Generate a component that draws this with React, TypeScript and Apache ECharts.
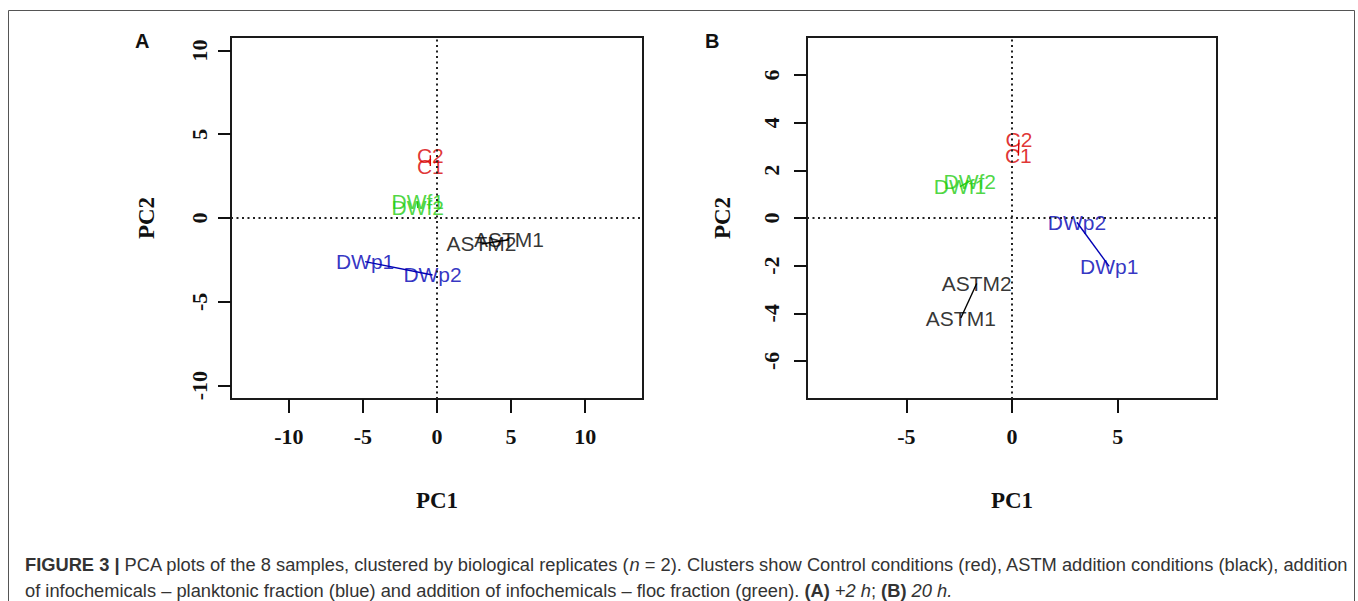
import React, { useEffect, useRef } from "react";
import * as echarts from "echarts";

// ---- Data ----
const samples = ["C1", "C2", "ASTM1", "ASTM2", "DWp1", "DWp2", "DWf1", "DWf2"];
const groupOf = ["ctrl", "ctrl", "astm", "astm", "dwp", "dwp", "dwf", "dwf"];
const groupColors: Record<string, string> = {
  ctrl: "#d80000",
  astm: "#000000",
  dwp: "#0000b4",
  dwf: "#22cc11",
};

// Panel A (+2 h)
const pc1A = [-0.45, -0.45, 4.85, 3.0, -4.85, -0.3, -1.3, -1.3];
const pc2A = [3.1, 3.75, -1.3, -1.55, -2.6, -3.4, 1.0, 0.6];
// Panel B (20 h)
const pc1B = [0.3, 0.33, -2.42, -1.67, 4.6, 3.07, -2.46, -2.0];
const pc2B = [2.62, 3.3, -4.2, -2.75, -2.03, -0.18, 1.32, 1.55];

const ticksAx = [-10, -5, 0, 5, 10];
const ticksAy = [-10, -5, 0, 5, 10];
const ticksBx = [-5, 0, 5];
const ticksBy = [-6, -4, -2, 0, 2, 4, 6];

const captionLine1 =
  "{b|FIGURE 3 |} PCA plots of the 8 samples, clustered by biological replicates ({i|n} = 2). Clusters show Control conditions (red), ASTM addition conditions (black), addition";
const captionLine2 =
  "of infochemicals – planktonic fraction (blue) and addition of infochemicals – floc fraction (green). {b|(A)} {i|+2 h}; {b|(B)} {i|20 h.}";

const serif = "'Liberation Serif', 'Times New Roman', serif";
const sans = "'Liberation Sans', Arial, sans-serif";
const capSize = 18.3;

function buildPanel(
  idx: number,
  pc1: number[],
  pc2: number[],
  xr: number,
  yr: number,
  xt: number[],
  yt: number[],
  yLabelMargin: number
) {
  const xAxis = {
    type: "value",
    gridIndex: idx,
    min: -xr,
    max: xr,
    axisLine: { show: false, onZero: false },
    splitLine: { show: false },
    axisTick: {
      show: true,
      customValues: xt,
      length: 14,
      lineStyle: { color: "#111", width: 2 },
    },
    axisLabel: {
      customValues: xt,
      margin: 26,
      fontFamily: serif,
      fontWeight: "bold",
      fontSize: 22,
      color: "#111",
      formatter: (v: number) => String(v),
    },
    name: "PC1",
    nameLocation: "middle",
    nameGap: 90,
    nameTextStyle: { fontFamily: serif, fontWeight: "bold", fontSize: 23, color: "#111" },
  };
  const yAxis = {
    type: "value",
    gridIndex: idx,
    min: -yr,
    max: yr,
    axisLine: { show: false, onZero: false },
    splitLine: { show: false },
    axisTick: {
      show: true,
      customValues: yt,
      length: 13,
      lineStyle: { color: "#111", width: 2 },
    },
    axisLabel: {
      customValues: yt,
      rotate: 90,
      margin: yLabelMargin,
      fontFamily: serif,
      fontWeight: "bold",
      fontSize: 22,
      color: "#111",
      formatter: (v: number) => String(v),
    },
    name: "PC2",
    nameLocation: "middle",
    nameRotate: 90,
    nameGap: 73,
    nameTextStyle: { fontFamily: serif, fontWeight: "bold", fontSize: 23, color: "#111" },
  };

  const series: any[] = [];
  // reference dotted lines at 0
  series.push({
    type: "line",
    xAxisIndex: idx,
    yAxisIndex: idx,
    data: [],
    silent: true,
    markLine: {
      silent: true,
      symbol: "none",
      label: { show: false },
      lineStyle: { color: "#222", width: 2, type: [2, 3.5] },
      data: [{ xAxis: 0 }, { yAxis: 0 }],
    },
  });
  const groups = Array.from(new Set(groupOf));
  groups.forEach((g) => {
    const ids = groupOf.map((gg, i) => (gg === g ? i : -1)).filter((i) => i >= 0);
    series.push({
      type: "line",
      xAxisIndex: idx,
      yAxisIndex: idx,
      showSymbol: false,
      symbol: "none",
      silent: true,
      lineStyle: { color: groupColors[g], width: 1.4 },
      data: ids.map((i) => [pc1[i], pc2[i]]),
    });
    series.push({
      type: "scatter",
      xAxisIndex: idx,
      yAxisIndex: idx,
      symbolSize: 0,
      silent: true,
      label: {
        show: true,
        position: "inside",
        formatter: (p: any) => p.name,
        fontFamily: sans,
        fontSize: 21,
        color: groupColors[g],
      },
      data: ids.map((i) => ({ name: samples[i], value: [pc1[i], pc2[i]] })),
    });
  });
  return { xAxis, yAxis, series };
}

export default function App() {
  const ref = useRef<HTMLDivElement>(null);
  useEffect(() => {
    if (!ref.current) return;
    const chart = echarts.init(ref.current, undefined, { renderer: "svg" });
    const a = buildPanel(0, pc1A, pc2A, 13.9, 10.8, ticksAx, ticksAy, 21);
    const b = buildPanel(1, pc1B, pc2B, 9.7, 7.6, ticksBx, ticksBy, 25);
    const richStyles = {
      b: { fontFamily: sans, fontSize: capSize, fontWeight: "bold", fill: "#333" },
      i: { fontFamily: sans, fontSize: capSize, fontStyle: "italic", fill: "#333" },
    };
    const option: any = {
      animation: false,
      backgroundColor: "#ffffff",
      grid: [
        { left: 231, top: 37, width: 412, height: 362, show: true, borderColor: "#1a1a1a", borderWidth: 2, backgroundColor: "transparent" },
        { left: 807, top: 37, width: 410, height: 362, show: true, borderColor: "#1a1a1a", borderWidth: 2, backgroundColor: "transparent" },
      ],
      xAxis: [a.xAxis, b.xAxis],
      yAxis: [a.yAxis, b.yAxis],
      series: [...a.series, ...b.series],
      graphic: [
        {
          type: "rect",
          silent: true,
          shape: { x: 8.5, y: 10.5, width: 1346, height: 620 },
          style: { fill: "none", stroke: "#555", lineWidth: 1 },
        },
        {
          type: "text",
          x: 135,
          y: 31,
          style: { text: "A", fontFamily: sans, fontWeight: "bold", fontSize: 20, fill: "#111" },
        },
        {
          type: "text",
          x: 705,
          y: 31,
          style: { text: "B", fontFamily: sans, fontWeight: "bold", fontSize: 20, fill: "#111" },
        },
        {
          type: "text",
          x: 25,
          y: 564,
          style: {
            text: captionLine1,
            fontFamily: sans,
            fontSize: capSize,
            fill: "#333",
            verticalAlign: "middle",
            rich: richStyles,
          },
        },
        {
          type: "text",
          x: 25,
          y: 590,
          style: {
            text: captionLine2,
            fontFamily: sans,
            fontSize: capSize,
            fill: "#333",
            verticalAlign: "middle",
            rich: richStyles,
          },
        },
      ],
    };
    chart.setOption(option);
    return () => chart.dispose();
  }, []);
  return (
    <div
      ref={ref}
      style={{ position: "fixed", left: 0, top: 0, width: 1358, height: 601 }}
    />
  );
}
